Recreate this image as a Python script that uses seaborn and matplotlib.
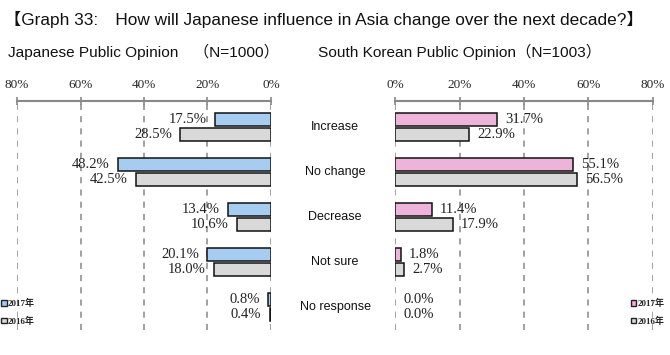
import matplotlib
matplotlib.use('Agg')
import matplotlib.pyplot as plt
import seaborn as sns
import pandas as pd

categories = ['Increase', 'No change', 'Decrease', 'Not sure', 'No response']
years = ['2017年', '2016年']
jp_2017 = [17.5, 48.2, 13.4, 20.1, 0.8]
jp_2016 = [28.5, 42.5, 10.6, 18.0, 0.4]
kr_2017 = [31.7, 55.1, 11.4, 1.8, 0.0]
kr_2016 = [22.9, 56.5, 17.9, 2.7, 0.0]
ticks = [0, 20, 40, 60, 80]

sns.set_theme(style='white')
serif = ['Liberation Serif', 'DejaVu Serif']
sans_cjk = ['Liberation Sans', 'Noto Sans CJK JP']
plt.rcParams['font.family'] = sans_cjk


def make_df(v17, v16):
    return pd.DataFrame({
        'category': categories * 2,
        'value': v17 + v16,
        'year': [years[0]] * len(categories) + [years[1]] * len(categories),
    })


def draw_panel(ax, df, color17, inverted):
    sns.barplot(data=df, y='category', x='value', hue='year', hue_order=years,
                order=categories, palette={years[0]: color17, years[1]: '#D9D9D9'},
                orient='h', width=0.667, gap=0.13, edgecolor='#111111',
                linewidth=1.1, ax=ax, legend=False)
    sign = -1 if inverted else 1
    for cont in ax.containers:
        for p in cont.patches:
            if p.get_width() == 0:
                p.set_linewidth(0)
            y = p.get_y() + p.get_height() / 2
            ax.annotate(f'{p.get_width():.1f}%', (p.get_width(), y),
                        xytext=(sign * 6, 0), textcoords='offset points',
                        ha='right' if inverted else 'left', va='center',
                        fontsize=10.5, family=serif, color='#222222')
    ax.set_xlim((80, 0) if inverted else (0, 80))
    ax.set_ylim(4.51, -0.58)
    ax.set_xticks(ticks)
    ax.set_xticklabels([f'{t}%' for t in ticks], family=serif, fontsize=9.5)
    ax.xaxis.tick_top()
    ax.tick_params(axis='x', direction='inout', length=6, width=1.2,
                   color='#888888', pad=4, top=True, bottom=False)
    ax.set_yticks([])
    ax.set_xlabel('')
    ax.set_ylabel('')
    for s in ['left', 'right', 'bottom']:
        ax.spines[s].set_visible(False)
    ax.spines['top'].set_color('#888888')
    ax.spines['top'].set_linewidth(1.5)
    ax.grid(axis='x', linestyle=(0, (4, 4)), color='#888888', linewidth=1.1)
    ax.set_axisbelow(True)

    handles = [plt.Rectangle((0, 0), 1, 1, facecolor=color17, edgecolor='#222222', lw=1),
               plt.Rectangle((0, 0), 1, 1, facecolor='#D9D9D9', edgecolor='#222222', lw=1)]
    return handles


fig = plt.figure(figsize=(6.7, 3.55), dpi=100)
ax_l = fig.add_axes([0.0254, 0.0704, 0.379, 0.6451])
ax_r = fig.add_axes([0.5896, 0.0704, 0.385, 0.6451])

h_l = draw_panel(ax_l, make_df(jp_2017, jp_2016), '#99CCFF', True)
h_r = draw_panel(ax_r, make_df(kr_2017, kr_2016), '#F7A9DE', False)

leg_font = {'family': ['Liberation Serif', 'Noto Sans CJK JP'], 'size': 6.5, 'weight': 'bold'}
fig.legend(h_l, years, loc='lower left', bbox_to_anchor=(-0.005, 0.07), frameon=False,
           prop=leg_font, handlelength=0.6, handleheight=0.6, handletextpad=0.1,
           labelspacing=0.9, borderpad=0)
fig.legend(h_r, years, loc='lower left', bbox_to_anchor=(0.935, 0.07), frameon=False,
           prop=leg_font, handlelength=0.6, handleheight=0.6, handletextpad=0.1,
           labelspacing=0.9, borderpad=0)

for i, c in enumerate(categories):
    y = 1 - (127 + 45 * i) / 355
    fig.text(0.5, y, c, ha='center', va='center', fontsize=9, color='#111111')

fig.text(0.006, 0.945, '【Graph 33:\u3000How will Japanese influence in Asia change over the next decade?】',
         fontsize=12.4, ha='left', va='center', color='#111111')
fig.text(0.012, 0.853, 'Japanese Public Opinion\u3000（N=1000）', fontsize=11.1,
         ha='left', va='center', color='#111111')
fig.text(0.475, 0.853, 'South Korean Public Opinion（N=1003）', fontsize=11.1,
         ha='left', va='center', color='#111111')

fig.savefig('out.png', dpi=100)
